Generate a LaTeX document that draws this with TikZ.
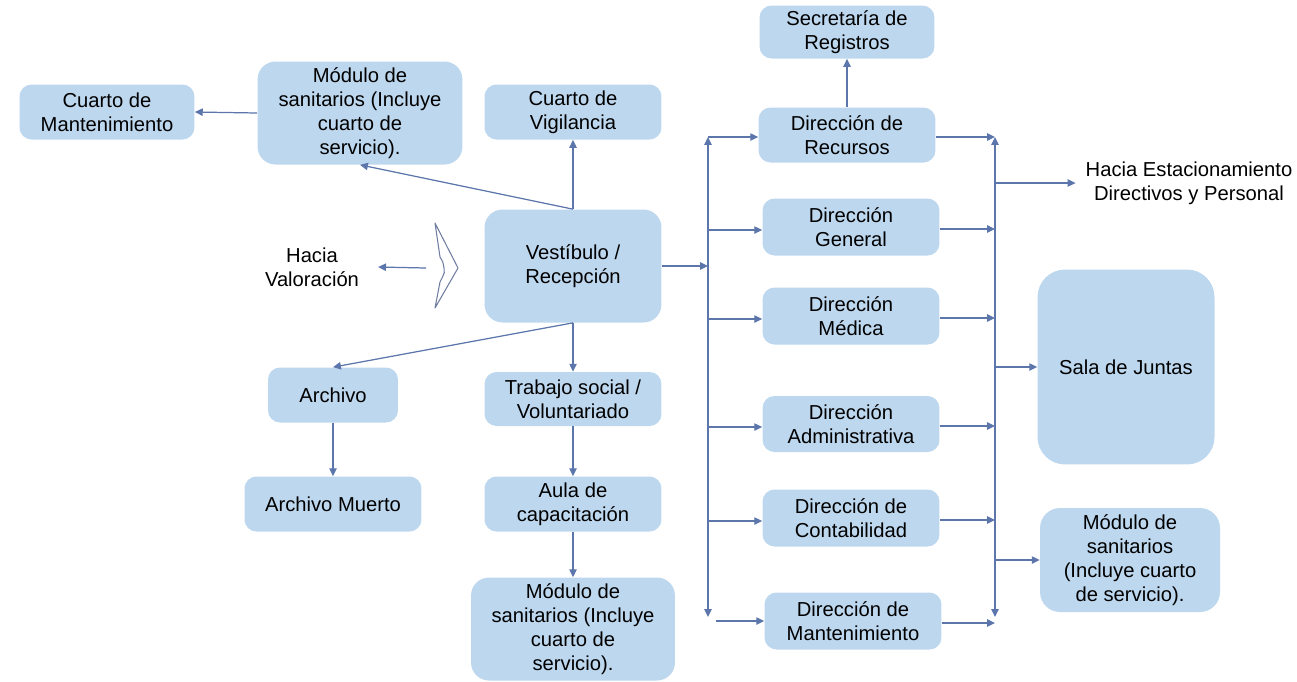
\documentclass[tikz,border=0pt]{standalone}
\usepackage{fontspec}
\setmainfont{Liberation Sans}
\usetikzlibrary{positioning,calc,arrows.meta}
\definecolor{cBox}{RGB}{189,215,238}
\definecolor{cLine}{RGB}{92,118,172}
\definecolor{cChev}{RGB}{110,125,160}

\begin{document}
\begin{tikzpicture}[
  x=0.02cm, y=-0.02cm,
  font=\fontsize{11.5}{13.6}\selectfont,
  box/.style  = {fill=cBox, rounded corners=0.24cm, align=center,
                 minimum width=3.54cm, minimum height=1.1cm, inner sep=1pt},
  tall/.style = {box, minimum width=4.1cm, minimum height=2.06cm,
                 rounded corners=0.36cm},
  txt/.style  = {align=center, inner sep=1pt},
  flow/.style = {-{Triangle[length=4.5pt, width=4.2pt]}, line width=0.7pt, draw=cLine, fill=cLine},
  both/.style = {{Triangle[length=4.5pt, width=4.2pt]}-{Triangle[length=4.5pt, width=4.2pt]},
                 line width=0.7pt, draw=cLine, fill=cLine}
]
\useasboundingbox (0,0) rectangle (1297,681);

% ------------------------------------------------------------ lado izquierdo --
\node[box, minimum width=3.5cm]            (mant) at (107,112) {Cuarto de\\Mantenimiento};
\node[tall]                                (modA) at (360,113) {Módulo de\\sanitarios (Incluye\\cuarto de\\servicio).};
\node[box]                                 (vig)  at (573,112) {Cuarto de\\Vigilancia};
\node[box, minimum height=2.26cm,
      rounded corners=0.36cm]              (vest) at (573,266) {Vestíbulo /\\Recepción};
\node[txt]                                 (val)  at (312,267) {Hacia\\Valoración};
\node[box, minimum width=2.6cm]            (arch) at (333,395) {Archivo};
\node[box]                                 (archM) at (333,504) {Archivo Muerto};
\node[box, minimum height=1.08cm]          (trab) at (573,399) {Trabajo social /\\Voluntariado};
\node[box]                                 (aula) at (573,504) {Aula de\\capacitación};
\node[tall, minimum width=4.08cm]          (modB) at (573,629) {Módulo de\\sanitarios (Incluye\\cuarto de\\servicio).};

% --------------------------------------------------------------- direcciones --
\node[box, minimum width=3.5cm,
      minimum height=1.06cm]               (secr) at (847,32)  {Secretaría de\\Registros};
\node[box]                                 (dRec) at (847,135) {Dirección de\\Recursos};
\node[box, minimum height=1.14cm]          (dGen) at (851,227) {Dirección\\General};
\node[box, minimum height=1.14cm]          (dMed) at (851,316) {Dirección\\Médica};
\node[box, minimum height=1.12cm]          (dAdm) at (851,424) {Dirección\\Administrativa};
\node[box, minimum height=1.14cm]          (dCon) at (851,518) {Dirección de\\Contabilidad};
\node[box, minimum height=1.14cm]          (dMan) at (853,621) {Dirección de\\Mantenimiento};

% ------------------------------------------------------------- lado derecho --
\node[txt]                                 (park) at (1189,183) {Hacia Estacionamiento\\Directivos y Personal};
\node[box, minimum height=3.9cm,
      rounded corners=0.55cm]              (sala) at (1126,367) {Sala de Juntas};
\node[box, minimum width=3.6cm, minimum height=2.08cm,
      rounded corners=0.4cm]               (modC) at (1130,560) {Módulo de\\sanitarios\\(Incluye cuarto\\de servicio).};

% la entrada: el chevron que apunta al vestibulo
\draw[cChev, line width=0.6pt, line join=round]
  (435,223) -- (458,268) -- (435,308) -- (440,282)
  .. controls (445,272) .. (444,268) .. controls (443,262) .. (440,257) -- cycle;
\coordinate (chevIn) at (426,268);

% ------------------------------------------------------------------- buses --
\coordinate (lt) at (708,137);
\coordinate (lb) at (708,617);
\coordinate (rt) at (995,137);
\coordinate (rb) at (995,617);
\draw[both] (lb) -- (lt);
\draw[both] (rb) -- (rt);

% ------------------------------------------------------------------- arcos --
\draw[flow] (modA.west) -- (mant.east);
\draw[flow] (vest.north) -- (modA.south);
\draw[flow] (vest.north) -- (vig.south);
\draw[flow] (chevIn) -- ([xshift=0.34cm]val.east);
\draw[flow] (vest.south) -- (arch.north);
\draw[flow] (vest.south) -- (trab.north);
\draw[flow] (arch) -- (archM);
\draw[flow] (trab) -- (aula);
\draw[flow] (aula) -- (modB);
\draw[flow] (dRec) -- (secr);

\draw[flow] (vest.east) -- (vest.east -| lt);
\draw[flow] (lt) -- (lt -| dRec.west);
\foreach \d in {dGen,dMed,dAdm,dCon}
  \draw[flow] ([yshift=-0.06cm]\d.west -| lt) -- ([yshift=-0.06cm]\d.west);
\draw[flow] ([xshift=0.16cm]lb |- dMan.west) -- (dMan.west);

\draw[flow] (rt -| dRec.east) -- (rt);
\foreach \d in {dGen,dMed,dAdm,dCon,dMan}
  \draw[flow] ([yshift=-0.04cm]\d.east) -- ([yshift=-0.04cm]\d.east -| rt);

\draw[flow] (rt |- park.west) -- ([xshift=-0.16cm]park.west);
\draw[flow] (rt |- sala.west) -- (sala.west);
\draw[flow] (rt |- modC.west) -- (modC.west);

\end{tikzpicture}
\end{document}
